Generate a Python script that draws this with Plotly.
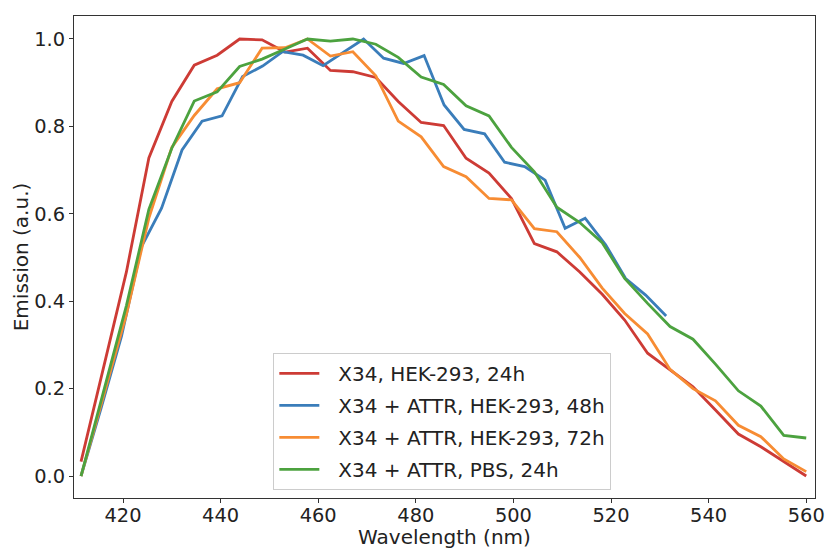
import plotly.graph_objects as go

# Wavelength grids (nm)
wl_main = [411.4, 416.0, 420.7, 425.3, 430.0, 434.6, 439.3, 443.9, 448.5, 453.2,
           457.8, 462.5, 467.1, 471.8, 476.4, 481.1, 485.7, 490.3, 495.0, 499.6,
           504.3, 508.9, 513.6, 518.2, 522.8, 527.5, 532.1, 536.8, 541.4, 546.1,
           550.7, 555.4, 560.0]
wl_blue = [411.4, 415.5, 419.7, 423.8, 427.9, 432.1, 436.2, 440.3, 444.5, 448.6,
           452.7, 456.9, 461.0, 465.1, 469.3, 473.4, 477.5, 481.7, 485.8, 489.9,
           494.1, 498.2, 502.3, 506.5, 510.6, 514.7, 518.9, 523.0, 527.1, 531.3]

red_24h = [0.033, 0.25, 0.467, 0.728, 0.857, 0.94, 0.963, 1.0, 0.998, 0.97,
           0.979, 0.928, 0.925, 0.912, 0.857, 0.809, 0.802, 0.727, 0.693, 0.635,
           0.532, 0.513, 0.467, 0.416, 0.357, 0.281, 0.243, 0.204, 0.151, 0.096,
           0.067, 0.033, 0.0]
blue_48h = [0.0, 0.155, 0.32, 0.525, 0.613, 0.746, 0.812, 0.824, 0.914, 0.938,
            0.971, 0.963, 0.939, 0.969, 1.0, 0.956, 0.944, 0.962, 0.849, 0.793,
            0.783, 0.718, 0.708, 0.677, 0.567, 0.59, 0.529, 0.452, 0.414, 0.366]
orange_72h = [0.0, 0.185, 0.37, 0.59, 0.752, 0.825, 0.886, 0.9, 0.979, 0.98,
              1.0, 0.961, 0.971, 0.916, 0.812, 0.776, 0.708, 0.685, 0.635, 0.632,
              0.566, 0.559, 0.5, 0.43, 0.372, 0.325, 0.244, 0.2, 0.172, 0.116,
              0.09, 0.039, 0.01]
green_pbs = [0.0, 0.19, 0.39, 0.61, 0.75, 0.858, 0.879, 0.937, 0.954, 0.977,
             1.0, 0.995, 1.0, 0.988, 0.958, 0.913, 0.896, 0.847, 0.824, 0.752,
             0.696, 0.615, 0.58, 0.534, 0.452, 0.395, 0.342, 0.313, 0.256, 0.195,
             0.16, 0.093, 0.087]

names = ["X34, HEK-293, 24h", "X34 + ATTR, HEK-293, 48h",
         "X34 + ATTR, HEK-293, 72h", "X34 + ATTR, PBS, 24h"]
colors = ["#cd3b35", "#3a7dba", "#f78c33", "#4ca23f"]

series = [(wl_main, red_24h), (wl_blue, blue_48h), (wl_main, orange_72h), (wl_main, green_pbs)]

fig = go.Figure()
for i, ((xs, ys), name, col) in enumerate(zip(series, names, colors)):
    fig.add_trace(go.Scatter(x=xs, y=ys, mode="lines", name="\u2002\u2009" + name,
                             legendgroup=f"g{i}",
                             line=dict(color=col, width=2.8)))

axis_common = dict(showline=True, linecolor="#333333", linewidth=1, mirror=True,
                   ticks="outside", ticklen=4, tickcolor="#333333", tickwidth=1,
                   showgrid=False, zeroline=False, automargin=False,
                   tickfont=dict(family="DejaVu Sans", size=19.4, color="#222"),
                   title_font=dict(family="DejaVu Sans", size=20, color="#222"))

fig.update_xaxes(range=[409.96, 561.8], dtick=20, tick0=420, ticklabelstandoff=-4,
                 title_text="Wavelength (nm)", title_standoff=2, **axis_common)
fig.update_yaxes(range=[-0.0503, 1.0526], dtick=0.2, tick0=0, tickformat=".1f",
                 title_text="Emission (a.u.)", title_standoff=0, **axis_common)

fig.update_layout(
    width=826, height=549,
    margin=dict(l=74, r=11, t=16, b=51),
    plot_bgcolor="white", paper_bgcolor="white",
    font=dict(family="DejaVu Sans", color="#222"),
    legend=dict(x=0.269, y=0.017, xanchor="left", yanchor="bottom",
                bgcolor="rgba(255,255,255,0.8)", bordercolor="#cccccc", borderwidth=1,
                font=dict(family="DejaVu Sans", size=20, color="#222"),
                tracegroupgap=3, itemwidth=40),
    showlegend=True,
)

fig.write_html("out.html", config={"displayModeBar": False},
               post_script="document.body.style.margin='0';document.body.style.overflow='hidden';")
